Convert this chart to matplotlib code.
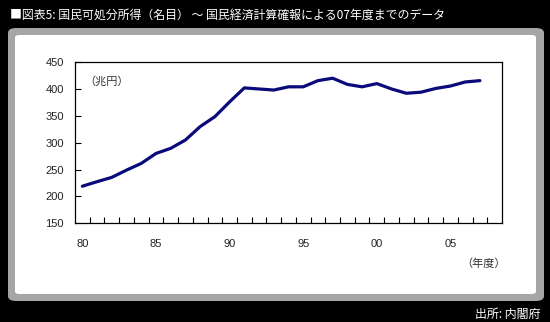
import matplotlib
matplotlib.use('Agg')
import matplotlib.pyplot as plt
from matplotlib.patches import FancyBboxPatch

plt.rcParams['font.family'] = ['Liberation Sans', 'Noto Sans CJK JP']

# 国民可処分所得（名目, 兆円）, 1980-2007年度
years = list(range(1980, 2008))
income = [219, 227.5, 235.5, 249, 261.5, 280, 289.5, 305, 330, 348.5, 376, 402,
          400, 398, 404, 404, 415.5, 420, 408.5, 404, 410, 400, 392, 394,
          401, 405.5, 413, 415.5]
label_years = [1980, 1985, 1990, 1995, 2000, 2005]
label_text = ['80', '85', '90', '95', '00', '05']

fig = plt.figure(figsize=(5.5, 3.22), dpi=100)
fig.patch.set_facecolor('black')

# gray frame with white panel
frame = FancyBboxPatch((8 / 550, 1 - 301 / 322), 536 / 550, 273 / 322,
                       boxstyle='round,pad=0,rounding_size=0.015',
                       transform=fig.transFigure, facecolor='#a6a6a6',
                       edgecolor='none', zorder=-2)
panel = FancyBboxPatch((15 / 550, 1 - 294 / 322), 521 / 550, 259 / 322,
                       boxstyle='round,pad=0,rounding_size=0.008',
                       transform=fig.transFigure, facecolor='white',
                       edgecolor='none', zorder=-1)
fig.patches.extend([frame, panel])

fig.text(10 / 550, 1 - 15 / 322,
         '■図表5: 国民可処分所得（名目） 〜 国民経済計算確報による07年度までのデータ',
         color='white', fontsize=8.6, family=['Noto Sans CJK JP'],
         ha='left', va='center')
fig.text(540 / 550, 1 - 314 / 322, '出所: 内閣府', color='white', fontsize=8.6,
         family=['Noto Sans CJK JP'], ha='right', va='center')

ax = fig.add_axes([75 / 550, 1 - 223.3 / 322, 427 / 550, 161.2 / 322])
ax.set_zorder(2)
ax.plot(years, income, color='#0a0a7a', lw=2.3, solid_joinstyle='round',
        solid_capstyle='round')

ax.set_xlim(1979.5, 2008.5)
ax.set_ylim(150, 450)
ax.set_yticks(range(150, 451, 50))
ax.set_xticks(label_years)
ax.set_xticklabels(label_text)
ax.set_xticks([y + 0.5 for y in years], minor=True)
ax.tick_params(axis='x', which='major', length=0, pad=11, labelsize=8,
               labelcolor='#222222')
ax.tick_params(axis='x', which='minor', direction='in', length=4, width=0.8)
ax.tick_params(axis='y', direction='in', length=4, width=0.8, pad=8,
               labelsize=8, labelcolor='#222222')
for s in ax.spines.values():
    s.set_linewidth(0.9)

ax.text(0.022, 0.88, '（兆円）', transform=ax.transAxes, fontsize=8,
        color='#333333', family=['Noto Sans CJK JP'], ha='left', va='center')
fig.text(506 / 550, 1 - 264 / 322, '（年度）', fontsize=8, color='#333333',
         family=['Noto Sans CJK JP'], ha='right', va='center')

fig.savefig('out.png', dpi=100, facecolor=fig.get_facecolor())
